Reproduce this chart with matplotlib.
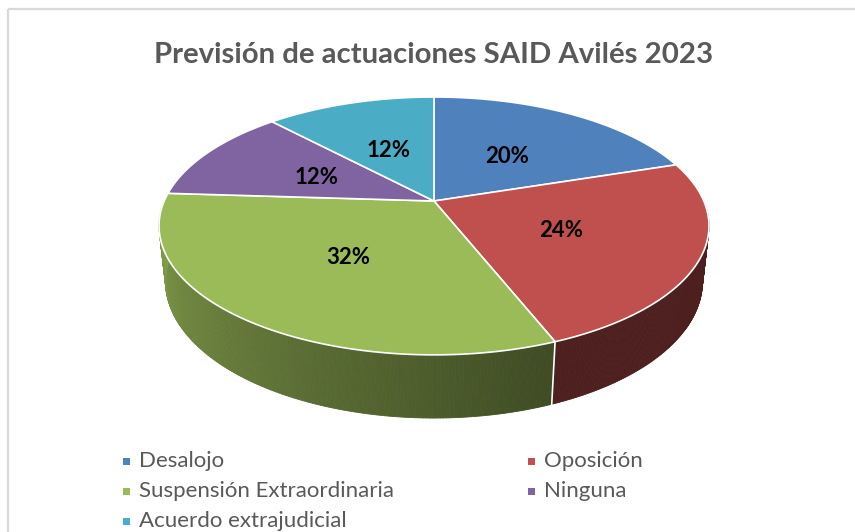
import numpy as np
import matplotlib
matplotlib.use("Agg")
import matplotlib.pyplot as plt
from matplotlib.patches import Polygon
from matplotlib.collections import PolyCollection
from matplotlib.colors import to_rgb

plt.rcParams['font.family'] = ['Lato', 'DejaVu Sans']

# ---- data ----
categories = ["Desalojo", "Oposición", "Suspensión Extraordinaria", "Ninguna", "Acuerdo extrajudicial"]
values = [20, 24, 32, 12, 12]
colors = ["#4f81bd", "#c0504d", "#9bbb59", "#8064a2", "#4bacc6"]
title = "Previsión de actuaciones SAID Avilés 2023"

# ---- projection parameters (3D perspective pie) ----
SE = 0.460
CE = np.sqrt(1 - SE**2)
DIST = 4.591
SCALE = 1238.6
CX, CY = 434, 201
H = 0.234


def proj(theta_deg, r=1.0, z=0.0):
    t = np.radians(theta_deg)
    X = r * np.sin(t)
    Y = r * np.cos(t)
    depth = Y * CE - z * SE + DIST
    yc = Y * SE + z * CE
    return CX + SCALE * X / depth, CY - SCALE * yc / depth


def side_factor(theta):
    return 0.40 + 0.45 * np.clip((theta - 158) / (270 - 158), 0, 1)


W, Hpx = 855, 532
fig = plt.figure(figsize=(W / 100, Hpx / 100), dpi=100)
ax = fig.add_axes([0, 0, 1, 1])
ax.set_xlim(0, W)
ax.set_ylim(Hpx, 0)
ax.axis('off')

# chart border
ax.plot([8, W + 5], [9, 9], color="#d9d9d9", lw=1.6, solid_capstyle='butt')
ax.plot([8, 8], [9, Hpx + 5], color="#d9d9d9", lw=1.6, solid_capstyle='butt')

total = sum(values)
fracs = [v / total for v in values]
starts = np.cumsum([0] + [f * 360 for f in fracs[:-1]])
ends = starts + np.array(fracs) * 360

# sides
polys, fcs = [], []
for s, e, c in zip(starts, ends, colors):
    a, b = max(s, 90), min(e, 270)
    if a >= b:
        continue
    ts = np.linspace(a, b, int((b - a) / 0.5) + 2)
    base = np.array(to_rgb(c))
    for t0, t1 in zip(ts[:-1], ts[1:]):
        p0 = proj(t0); p1 = proj(t1)
        q1 = proj(t1, z=-H); q0 = proj(t0, z=-H)
        polys.append([p0, p1, q1, q0])
        fcs.append(tuple(base * side_factor((t0 + t1) / 2)))
pc = PolyCollection(polys, facecolors=fcs, edgecolors=fcs, linewidths=0.6, zorder=1)
ax.add_collection(pc)

# side separators (white)
for s in list(starts) + [360]:
    if 90 < s < 270:
        p = proj(s); q = proj(s, z=-H)
        ax.plot([p[0], q[0]], [p[1], q[1]], color="white", lw=1.2, zorder=2)

# tops
for s, e, c in zip(starts, ends, colors):
    ts = np.linspace(s, e, int((e - s) / 0.5) + 2)
    pts = [proj(0, r=0.0)] + [proj(t) for t in ts]
    ax.add_patch(Polygon(pts, closed=True, facecolor=c, edgecolor="white",
                         lw=1.2, joinstyle='round', zorder=3))

# data labels
for s, e, v in zip(starts, ends, values):
    x, y = proj((s + e) / 2, r=0.5)
    ax.text(x, y + 2, f"{round(v / total * 100)}%", ha='center', va='center',
            fontsize=16, fontweight='bold', color='black', zorder=5)

# title
ax.text(434, 55, title, ha='center', va='center', fontsize=21.2,
        fontweight='bold', color="#595959")

# legend (row-wise, 2 columns)
col_x = [126, 531]
row_y = [461, 491, 521]
for i, (cat, c) in enumerate(zip(categories, colors)):
    r, col = divmod(i, 2)
    x, y = col_x[col], row_y[r]
    ax.add_patch(plt.Rectangle((x - 3.5, y - 3.5), 7, 7, facecolor=c, edgecolor='none'))
    ax.text(x + 13, y, cat, ha='left', va='center', fontsize=16, color="#595959")

fig.savefig("out.png", dpi=100, facecolor="white")
